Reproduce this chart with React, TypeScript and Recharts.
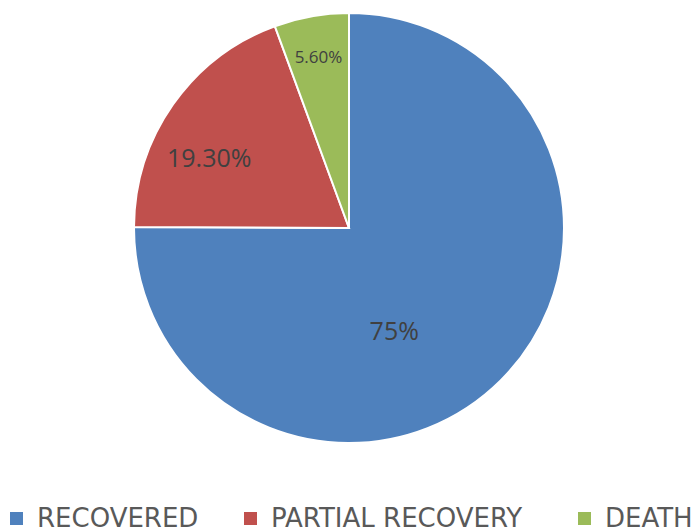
import { PieChart, Pie, Cell, Legend } from 'recharts';

const categories = ['RECOVERED', 'PARTIAL RECOVERY', 'DEATH'];
const shares = [75, 19.3, 5.6];
const shareLabels = ['75%', '19.30%', '5.60%'];

const COLORS = ['#4F81BD', '#C0504D', '#9BBB59'];
// label placement tweaks (fraction of radius, angle shift in degrees, font size)
const LABEL_STYLE = [
  { r: 0.52, shift: -21, size: 25 },
  { r: 0.73, shift: 8, size: 25 },
  { r: 0.81, shift: 0, size: 17 },
];
const LEGEND_SLOTS = [234, 334, 130];

const data = categories.map((name, i) => ({ name, value: shares[i], label: shareLabels[i] }));

const RADIAN = Math.PI / 180;

function renderLabel(props: any) {
  const { cx, cy, midAngle, outerRadius, index } = props;
  const s = LABEL_STYLE[index];
  const a = (midAngle + s.shift) * RADIAN;
  const x = cx + outerRadius * s.r * Math.cos(a);
  const y = cy - outerRadius * s.r * Math.sin(a);
  return (
    <text
      x={x}
      y={y}
      fill="#404040"
      fontSize={s.size}
      fontFamily="'Open Sans', sans-serif"
      textAnchor="middle"
      dominantBaseline="central"
    >
      {data[index].label}
    </text>
  );
}

function LegendContent() {
  return (
    <div style={{ display: 'flex', fontFamily: "'DejaVu Sans', sans-serif", fontSize: 26, color: '#595959', whiteSpace: 'nowrap' }}>
      {data.map((d, i) => (
        <div key={d.name} style={{ width: LEGEND_SLOTS[i], display: 'flex', alignItems: 'center', flexShrink: 0 }}>
          <span style={{ display: 'inline-block', width: 13, height: 13, background: COLORS[i], marginRight: 14 }} />
          <span>{d.name}</span>
        </div>
      ))}
    </div>
  );
}

export default function App() {
  return (
    <div style={{ position: 'absolute', left: 0, top: 0, width: 698, height: 528, background: '#fff', overflow: 'hidden' }}>
      <PieChart width={698} height={528}>
        <Pie
          data={data}
          dataKey="value"
          nameKey="name"
          cx={344}
          cy={223}
          outerRadius={215}
          startAngle={90}
          endAngle={-270}
          stroke="#fff"
          strokeWidth={2}
          label={renderLabel}
          labelLine={false}
          isAnimationActive={false}
        >
          {data.map((d, i) => (
            <Cell key={d.name} fill={COLORS[i]} />
          ))}
        </Pie>
        <Legend content={<LegendContent />} wrapperStyle={{ left: 10, top: 503, width: 698 }} />
      </PieChart>
    </div>
  );
}
